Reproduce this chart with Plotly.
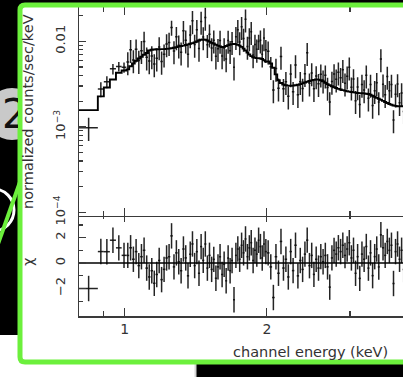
import numpy as np
import plotly.graph_objects as go

# ---------------- data ----------------
energy_edges_keV = [
    0.800, 0.877, 0.903, 0.930, 0.958, 0.985, 1.008,
    1.022, 1.036, 1.050, 1.064, 1.078, 1.092, 1.106, 1.120, 1.134, 1.148, 1.162, 1.176, 1.190, 1.204,
    1.219, 1.234, 1.249, 1.264, 1.279, 1.294, 1.309, 1.324, 1.339, 1.354, 1.369, 1.384, 1.399, 1.414,
    1.429, 1.444, 1.459, 1.474, 1.489, 1.504,
    1.520, 1.536, 1.552, 1.568, 1.584, 1.600, 1.616, 1.632, 1.648, 1.664, 1.680, 1.696, 1.712, 1.728,
    1.744, 1.760,
    1.777, 1.794, 1.811, 1.828, 1.845, 1.862, 1.879, 1.896, 1.913, 1.930, 1.947, 1.964, 1.981, 2.000,
    2.026, 2.052, 2.078, 2.104, 2.130, 2.156, 2.182, 2.208, 2.234, 2.260,
    2.287, 2.314, 2.341, 2.368, 2.395, 2.422, 2.449, 2.476, 2.503, 2.530,
    2.559, 2.588, 2.617, 2.646, 2.675, 2.704, 2.733, 2.762, 2.791, 2.820,
    2.851, 2.882, 2.913, 2.944, 2.975, 3.006, 3.037, 3.068, 3.099, 3.130,
    3.164, 3.198, 3.232, 3.266, 3.300, 3.334, 3.368, 3.402, 3.436, 3.470,
    3.507, 3.544, 3.581, 3.618, 3.655, 3.692, 3.729, 3.766, 3.803, 3.840,
    3.880, 3.920, 3.960,
]

# folded model, 1e-3 counts/s/keV
model_e3 = [
    1.57, 2.27, 2.88, 3.57, 4.29, 4.55,
    4.7, 5.1, 5.5, 5.9, 6.3, 6.6, 6.95, 7.3, 7.8, 7.95, 8.0, 8.05, 8.05, 8.1,
    8.1, 8.15, 8.2, 8.3, 8.4, 8.55, 8.7, 8.8, 8.9, 9.05, 9.2, 9.35, 9.5, 9.7, 9.95, 10.2, 10.4, 10.5, 10.4, 10.2,
    9.9, 9.6, 9.4, 9.1, 8.9, 8.7, 8.55, 8.6, 8.8, 9.0, 9.15, 9.25, 9.3, 9.25, 9.1, 8.9,
    8.6, 8.2, 7.8, 7.4, 7.0, 6.7, 6.5, 6.4, 6.35, 6.35, 6.3, 6.2, 6.0,
    5.8,
    5.8, 5.5, 4.9, 4.1, 3.5, 3.25, 3.12, 3.06, 3.03, 3.02,
    3.03, 3.06, 3.10, 3.16, 3.22, 3.30, 3.37, 3.43, 3.49, 3.54,
    3.57, 3.56, 3.50, 3.40, 3.28, 3.15, 3.06, 2.98, 2.90, 2.84,
    2.78, 2.73, 2.69, 2.65, 2.61, 2.58, 2.55, 2.53, 2.51, 2.49,
    2.48, 2.47, 2.46, 2.44, 2.42, 2.37, 2.31, 2.25, 2.19, 2.13,
    2.07, 2.01, 1.95, 1.90, 1.85, 1.81, 1.78, 1.76, 1.74, 1.74,
    1.74, 1.74, 1.74,
]

# measured normalized counts, 1e-3 counts/s/keV
counts_e3 = [
    0.98, 2.77, 3.36, 4.77, 5.08, 4.97,
    5.73, 7.97, 6.04, 8.08, 5.94, 7.76, 9.93, 6.52, 5.87, 6.73, 5.41, 6.34, 8.57, 5.82,
    7.05, 9.26, 9.64, 14.5, 7.70, 11.25, 8.97, 7.45, 13.3, 10.3, 7.07, 11.8, 17.3, 9.15, 13.6, 8.22, 17.0, 11.2, 18.9, 9.11,
    12.1, 8.35, 10.3, 6.69, 8.16, 10.2, 6.73, 8.35, 6.2, 10.2, 7.75, 9.84, 4.98, 11.3, 13.6, 9.78,
    14.8, 10.8, 18.1, 8.7, 10.9, 12.9, 6.92, 9.15, 8.04, 9.9, 10.3, 7.04, 10.9,
    7.95,
    7.63, 5.04, 2.70, 4.82, 2.82, 6.63, 2.79, 3.36, 2.28, 4.14,
    2.57, 5.28, 2.38, 3.36, 2.80, 4.18, 7.33, 3.23, 4.26, 2.79,
    3.92, 3.18, 4.12, 3.51, 4.00, 2.89, 1.95, 3.39, 4.14, 3.60,
    4.35, 3.74, 4.64, 3.23, 3.90, 4.96, 2.90, 3.62, 2.02, 2.93,
    1.82, 3.13, 2.70, 4.00, 2.16, 3.12, 1.78, 2.65, 3.27, 1.95,
    6.20, 3.14, 2.38, 3.88, 2.64, 3.12, 1.20, 2.41, 3.16, 1.91,
    2.49, 1.51, 2.29,
]

# fractional 1-sigma error of each bin
rel_err = [
    0.30, 0.20, 0.16, 0.14, 0.13, 0.14,
    0.30, 0.30, 0.30, 0.30, 0.30, 0.30, 0.30, 0.30, 0.30, 0.30, 0.30, 0.30, 0.30, 0.30,
    0.30, 0.30, 0.30, 0.20, 0.30, 0.30, 0.30, 0.30, 0.30, 0.30, 0.30, 0.30, 0.30, 0.30, 0.30, 0.30, 0.30, 0.30, 0.30, 0.30,
    0.30, 0.30, 0.30, 0.30, 0.30, 0.30, 0.30, 0.30, 0.30, 0.30, 0.30, 0.30, 0.30, 0.30, 0.30, 0.30,
    0.30, 0.30, 0.30, 0.30, 0.30, 0.30, 0.30, 0.30, 0.30, 0.20, 0.30, 0.30, 0.30,
    0.30,
    0.30, 0.30, 0.30, 0.30, 0.30, 0.30, 0.30, 0.30, 0.30, 0.30,
    0.30, 0.30, 0.30, 0.30, 0.30, 0.30, 0.30, 0.30, 0.30, 0.30,
    0.30, 0.30, 0.30, 0.30, 0.30, 0.30, 0.30, 0.30, 0.30, 0.30,
    0.30, 0.30, 0.30, 0.30, 0.30, 0.30, 0.30, 0.30, 0.30, 0.30,
    0.30, 0.30, 0.30, 0.30, 0.30, 0.30, 0.30, 0.30, 0.30, 0.30,
    0.30, 0.30, 0.30, 0.30, 0.30, 0.30, 0.30, 0.30, 0.30, 0.30,
    0.30, 0.30, 0.30,
]

x_tick_vals = [1, 2]
x_tick_text = ["1", "2"]
x_minor_vals = [0.9, 3, 4]
y_tick_vals = [1e-4, 1e-3, 1e-2]
y_tick_text = ["10<sup>\u22124</sup>", "10<sup>\u22123</sup>", "0.01"]
y_minor_vals = [2e-4, 3e-4, 4e-4, 5e-4, 6e-4, 7e-4, 8e-4, 9e-4,
                2e-3, 3e-3, 4e-3, 5e-3, 6e-3, 7e-3, 8e-3, 9e-3, 2e-2]
chi_tick_vals = [-2, 0, 2]
chi_tick_text = ["\u22122", "0", "2"]
chi_minor_vals = [-3, -1, 1, 3]

# ---------------- derived ----------------
edges = np.array(energy_edges_keV)
lo, hi = edges[:-1], edges[1:]
cen = 0.5 * (lo + hi)
model = np.array(model_e3) * 1e-3
data = np.array(counts_e3) * 1e-3
err = data * np.array(rel_err)
chi = (data - model) / err

W, H = 403, 377
ML, MR, MT, MB = 79, 0, 7, 61
PW, PH = W - ML - MR, H - MT - MB


def X(px):
    return (px - ML) / PW


def Y(py):
    return (H - MB - py) / PH


INK = "rgba(12,12,12,0.9)"
FONT = "DejaVu Sans"
GREEN = "#6cf03c"

fig = go.Figure()

# top panel: data + folded model
fig.add_trace(go.Scatter(
    x=cen, y=data, xaxis="x2", yaxis="y2", mode="markers",
    marker=dict(size=1, color="rgba(0,0,0,0)"),
    error_x=dict(type="data", symmetric=False, array=hi - cen, arrayminus=cen - lo,
                 width=0, thickness=1.5, color=INK),
    error_y=dict(type="data", array=err, width=0, thickness=1.5, color=INK),
    showlegend=False, hoverinfo="skip"))
fig.add_trace(go.Scatter(
    x=edges, y=np.append(model, model[-1]), xaxis="x2", yaxis="y2",
    mode="lines", line=dict(color="black", width=1.9, shape="hv"),
    showlegend=False, hoverinfo="skip"))

# bottom panel: residuals
fig.add_trace(go.Scatter(
    x=cen, y=chi, xaxis="x", yaxis="y", mode="markers",
    marker=dict(size=1, color="rgba(0,0,0,0)"),
    error_x=dict(type="data", symmetric=False, array=hi - cen, arrayminus=cen - lo,
                 width=0, thickness=1.5, color=INK),
    error_y=dict(type="data", array=np.ones_like(chi), width=0, thickness=1.5, color=INK),
    showlegend=False, hoverinfo="skip"))
fig.add_trace(go.Scatter(
    x=[edges[0], edges[-1]], y=[0, 0], xaxis="x", yaxis="y",
    mode="lines", line=dict(color="black", width=1.4),
    showlegend=False, hoverinfo="skip"))

xr = [np.log10(0.8), np.log10(0.8) + PW / 472.0]
split = Y(214)

axis_common = dict(showline=True, linecolor="#3a3a3a", linewidth=1.5, ticks="inside",
                   tickcolor="#3a3a3a", tickwidth=1.3, showgrid=False, zeroline=False,
                   automargin=False)

fig.update_layout(
    width=W, height=H, autosize=False,
    margin=dict(l=ML, r=MR, t=MT, b=MB, pad=0, autoexpand=False),
    paper_bgcolor="black", plot_bgcolor="white",
    font=dict(family=FONT, color="#333333"),
    xaxis=dict(type="log", range=xr, domain=[0, 1], anchor="y",
               tickvals=x_tick_vals, ticktext=x_tick_text, ticklen=8, mirror="ticks",
               tickfont=dict(size=14, family=FONT, color="#333"),
               minor=dict(tickvals=x_minor_vals, ticks="inside", ticklen=5,
                          tickcolor="#3a3a3a", tickwidth=1.2),
               **axis_common),
    xaxis2=dict(type="log", range=xr, domain=[0, 1], anchor="y2", matches="x",
                tickvals=x_tick_vals, ticktext=x_tick_text, ticklen=8, mirror="ticks",
                showticklabels=False,
                minor=dict(tickvals=x_minor_vals, ticks="inside", ticklen=5,
                           tickcolor="#3a3a3a", tickwidth=1.2),
                **axis_common),
    yaxis=dict(range=[-4.17, 3.86], domain=[0, split], anchor="x",
               tickvals=chi_tick_vals, ticktext=chi_tick_text, ticklen=7, tickangle=-90,
               ticklabelstandoff=7,
               tickfont=dict(size=13, family=FONT, color="#333"),
               minor=dict(tickvals=chi_minor_vals, ticks="inside", ticklen=4,
                          tickcolor="#3a3a3a", tickwidth=1.2),
               **axis_common),
    yaxis2=dict(type="log", range=[-4.035, -1.6], domain=[split - 1.5 / PH, 1], anchor="x2",
                tickvals=y_tick_vals, ticktext=y_tick_text, ticklen=7, tickangle=-90,
                ticklabelstandoff=7,
                tickfont=dict(size=13, family=FONT, color="#333"),
                minor=dict(tickvals=y_minor_vals, ticks="inside", ticklen=4,
                           tickcolor="#3a3a3a", tickwidth=1.2),
                **axis_common),
)


def rrect(x0, y0, x1, y1, r):
    pts = [
        f"M{X(x0 + r)},{Y(y0)}", f"L{X(x1 - r)},{Y(y0)}", f"Q{X(x1)},{Y(y0)} {X(x1)},{Y(y0 + r)}",
        f"L{X(x1)},{Y(y1 - r)}", f"Q{X(x1)},{Y(y1)} {X(x1 - r)},{Y(y1)}",
        f"L{X(x0 + r)},{Y(y1)}", f"Q{X(x0)},{Y(y1)} {X(x0)},{Y(y1 - r)}",
        f"L{X(x0)},{Y(y0 + r)}", f"Q{X(x0)},{Y(y0)} {X(x0 + r)},{Y(y0)}", "Z"]
    return " ".join(pts)


shapes = [
    # white paper area lower left
    dict(type="rect", xref="paper", yref="paper", x0=X(-5), x1=X(196), y0=Y(382), y1=Y(335),
         fillcolor="white", line=dict(width=0), layer="below"),
    dict(type="line", xref="paper", yref="paper", x0=X(195.5), x1=X(195.5), y0=Y(362), y1=Y(382),
         line=dict(color="#d4d4d4", width=2), layer="below"),
    # grey badge behind the frame
    dict(type="circle", xref="paper", yref="paper", x0=X(-14), x1=X(38), y0=Y(140), y1=Y(88),
         fillcolor="#c9c9c9", line=dict(width=0), layer="below"),
    # white ring
    dict(type="circle", xref="paper", yref="paper", x0=X(-27), x1=X(14), y0=Y(231), y1=Y(189),
         line=dict(color="white", width=3), layer="below"),
    # green diagonal
    dict(type="line", xref="paper", yref="paper", x0=X(-2), x1=X(20), y0=Y(244), y1=Y(182),
         line=dict(color=GREEN, width=4), layer="below"),
    # white interior of the frame
    dict(type="rect", xref="paper", yref="paper", x0=X(20), x1=X(415), y0=Y(362), y1=Y(5),
         fillcolor="white", line=dict(width=0), layer="below"),
    # green frame
    dict(type="path", xref="paper", yref="paper", path=rrect(20, 5, 415, 362, 5),
         line=dict(color=GREEN, width=5), layer="above"),
]
fig.update_layout(shapes=shapes)

annotations = [
    dict(text="normalized counts/sec/keV", x=X(28), y=Y(112), xref="paper", yref="paper",
         textangle=-90, showarrow=False, font=dict(size=14.5, family=FONT, color="#333"),
         xanchor="center", yanchor="middle"),
    dict(text="\u03c7", x=X(28), y=Y(262), xref="paper", yref="paper",
         textangle=-90, showarrow=False, font=dict(size=14.5, family=FONT, color="#333"),
         xanchor="center", yanchor="middle"),
    dict(text="channel energy (keV)", x=X(310), y=Y(352), xref="paper", yref="paper",
         showarrow=False, font=dict(size=14.5, family=FONT, color="#333"),
         xanchor="center", yanchor="middle"),
    dict(text="2", x=X(1), y=Y(114), xref="paper", yref="paper", showarrow=False,
         font=dict(size=40, family=FONT, color="#111"), xanchor="left", yanchor="middle",
         width=16, align="left", borderpad=0),
]
fig.update_layout(annotations=annotations)

fig.write_html("out.html", config={"displayModeBar": False, "staticPlot": True},
               post_script="document.body.style.margin='0';document.body.style.overflow='hidden';")
